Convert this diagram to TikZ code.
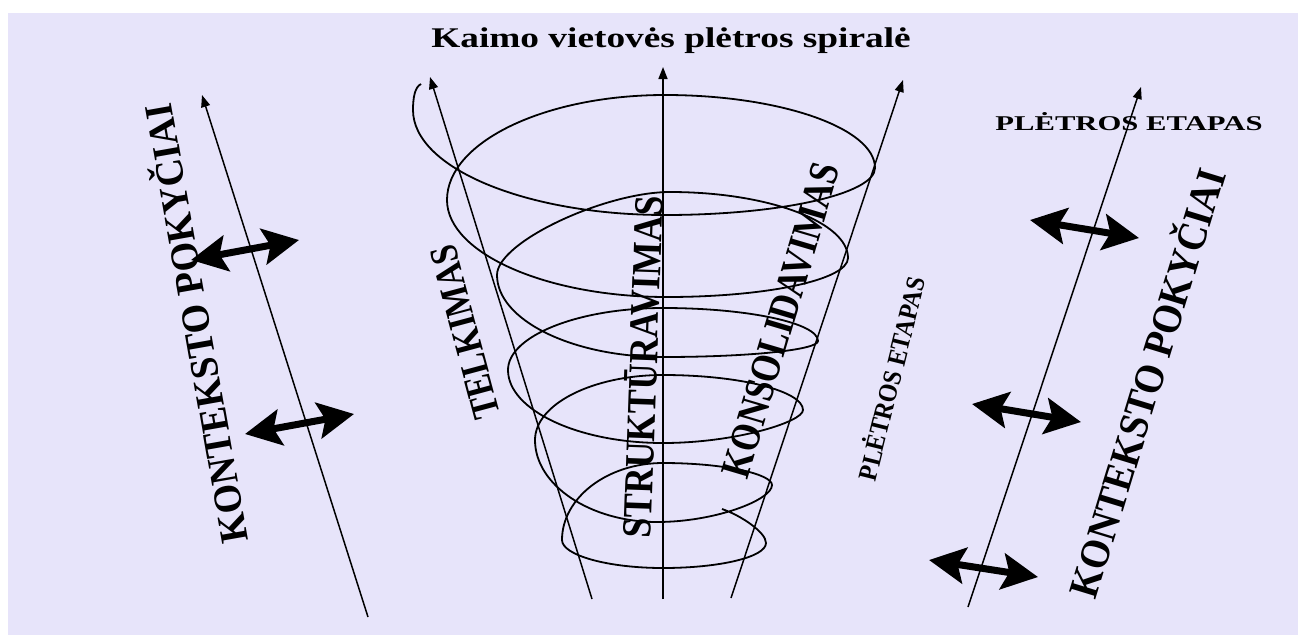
\documentclass[tikz,border=0pt]{standalone}
\usepackage{fontspec}
\setmainfont{Liberation Serif}
\usetikzlibrary{arrows.meta}
\definecolor{bgl}{RGB}{231,228,250}
\begin{document}
\begin{tikzpicture}[x=1pt,y=-1pt,
  axisline/.style={line width=1.5pt,-{Triangle[length=12pt,width=9pt]}},
  spir/.style={line width=1.8pt},
  dblarr/.style={line width=7pt,{Stealth[length=36pt,width=36pt,inset=7pt]}-{Stealth[length=36pt,width=36pt,inset=7pt]}},
  lbl/.style={inner sep=0pt,font=\bfseries}]
\useasboundingbox (0,0) rectangle (1298,635);
\fill[white] (0,0) rectangle (1298,635);
\fill[bgl] (8,13) rectangle (1298,635);

% title
\node[lbl,anchor=base] (title) at (671,47) {\fontsize{28.5}{28.5}\selectfont\scalebox{1.31}[1]{Kaimo vietovės plėtros spiralė}};

% outer axes
\coordinate (lb) at (368,617); \coordinate (lt) at (202,95);
\coordinate (rb) at (968,607); \coordinate (rt) at (1141,87);
\draw[axisline] (lb) -- (lt);
\draw[axisline] (rb) -- (rt);

% spiral axes
\coordinate (sl0) at (592,599); \coordinate (sl1) at (430,77);
\coordinate (sm0) at (663,599); \coordinate (sm1) at (663,67);
\coordinate (sr0) at (731,598); \coordinate (sr1) at (903,80);
\draw[axisline] (sl0) -- (sl1);
\draw[axisline] (sm0) -- (sm1);
\draw[axisline] (sr0) -- (sr1);

% spiral
\draw[spir] (421,84) .. controls (415,87) and (413,97) .. (413,110)
 .. controls (413,168) and (526,215) .. (665,215)
 .. controls (780,215) and (875,194) .. (875,168)
 .. controls (875,128) and (780,95) .. (665,95)
 .. controls (545,95) and (447,142) .. (447,200)
 .. controls (447,253) and (546,297) .. (667,297)
 .. controls (766,297) and (848,280) .. (848,258)
 .. controls (848,222) and (768,192) .. (670,192)
 .. controls (605,192) and (497,242) .. (497,275)
 .. controls (497,320) and (572,357) .. (663,357)
 .. controls (748,357) and (818,350) .. (818,341)
 .. controls (818,323) and (748,308) .. (663,308)
 .. controls (578,308) and (508,336) .. (508,370)
 .. controls (508,410) and (578,443) .. (663,443)
 .. controls (735,443) and (803,422) .. (803,410)
 .. controls (803,391) and (740,375) .. (663,375)
 .. controls (593,375) and (535,404) .. (535,440)
 .. controls (535,485) and (590,522) .. (657,522)
 .. controls (715,522) and (772,500) .. (772,485)
 .. controls (772,474) and (724,463) .. (663,463)
 .. controls (607,463) and (562,498) .. (562,540)
 .. controls (562,555) and (607,568) .. (663,568)
 .. controls (720,568) and (766,557) .. (766,543)
 .. controls (766,532) and (740,515) .. (722,509);

% labels
\node[lbl,rotate=100] (kpl) at (193,324) {\fontsize{38}{38}\selectfont\scalebox{1}[1.05]{KONTEKSTO POKYČIAI}};
\node[lbl,rotate=105] (telk) at (465,332) {\fontsize{33}{33}\selectfont\scalebox{1}[1.2]{TELKIMAS}};
\node[lbl,rotate=88] (strukt) at (641,367) {\fontsize{36}{36}\selectfont\scalebox{1}[1.15]{STRUKTŪRAVIMAS}};
\node[lbl,rotate=73.5] (konsol) at (781,320) {\fontsize{35}{35}\selectfont\scalebox{1}[1.2]{KONSOLIDAVIMAS}};
\node[lbl,rotate=76] (pletv) at (890,378) {\fontsize{24}{24}\selectfont\scalebox{1}[1.1]{PLĖTROS ETAPAS}};
\node[lbl,anchor=base] (pleth) at (1129,130) {\fontsize{21}{21}\selectfont\scalebox{1.46}[1]{PLĖTROS ETAPAS}};
\node[lbl,rotate=73] (kpr) at (1144,382) {\fontsize{38}{38}\selectfont\scalebox{1}[1.1]{KONTEKSTO POKYČIAI}};

% double arrows
\coordinate (a1l) at (191,260); \coordinate (a1r) at (299,240);
\coordinate (a2l) at (245,434); \coordinate (a2r) at (354,414);
\coordinate (b1l) at (1030,220); \coordinate (b1r) at (1139,238);
\coordinate (b2l) at (972,404); \coordinate (b2r) at (1081,422);
\coordinate (b3l) at (929,560); \coordinate (b3r) at (1038,577);
\draw[dblarr] (a1l) -- (a1r);
\draw[dblarr] (a2l) -- (a2r);
\draw[dblarr] (b1l) -- (b1r);
\draw[dblarr] (b2l) -- (b2r);
\draw[dblarr] (b3l) -- (b3r);
\end{tikzpicture}
\end{document}
